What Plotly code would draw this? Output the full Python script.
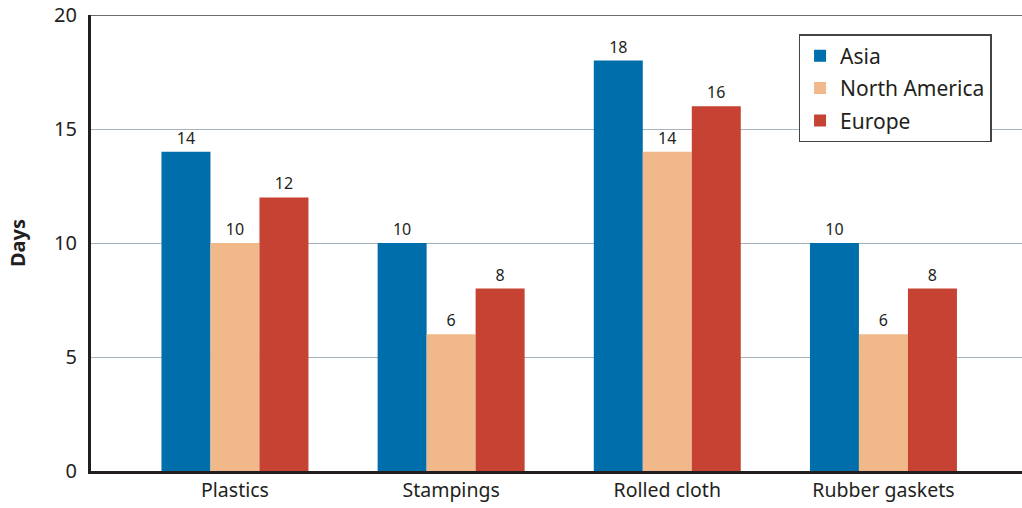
import plotly.graph_objects as go

categories = ["Plastics", "Stampings", "Rolled cloth", "Rubber gaskets"]
asia = [14, 10, 18, 10]
north_america = [10, 6, 14, 6]
europe = [12, 8, 16, 8]
y_ticks = [0, 5, 10, 15, 20]

series = [("Asia", asia, "#006eab"), ("North America", north_america, "#f1b98a"), ("Europe", europe, "#c64232")]
FONT = "Noto Sans"
INK = "#231f20"

fig = go.Figure()
for name, vals, col in series:
    fig.add_trace(go.Bar(
        name=name, x=categories, y=vals, marker=dict(color=col, line=dict(width=0)),
        text=[str(v) for v in vals], textposition="outside", cliponaxis=False,
        textfont=dict(family=FONT, size=16, color=INK), legendgroup=name,
    ))

# top frame line at the 20 gridline
fig.add_shape(type="line", xref="paper", yref="y", x0=0, x1=1, y0=20, y1=20,
              line=dict(color="#3c3c3c", width=1.5), layer="above")

fig.update_layout(
    width=1022, height=508,
    margin=dict(l=91, r=0, t=15, b=37, autoexpand=False),
    paper_bgcolor="white", plot_bgcolor="white",
    barmode="group", bargap=0.32, bargroupgap=0,
    font=dict(family=FONT, color=INK),
    showlegend=True,
    legend=dict(x=0.76, y=0.958, xanchor="left", yanchor="top",
                bordercolor="#444444", borderwidth=1.5, bgcolor="white",
                font=dict(family=FONT, size=21, color=INK),
                itemwidth=30, traceorder="grouped", tracegroupgap=2),
    xaxis=dict(range=[-0.666, 3.641], showline=True, linecolor=INK, linewidth=3, automargin=False,
               ticks="", tickfont=dict(family=FONT, size=19.5, color=INK), showgrid=False),
    yaxis=dict(range=[0, 20], tickvals=y_ticks, showline=True, linecolor=INK, linewidth=3, automargin=False,
               ticks="", ticklabelstandoff=7, ticklabeloverflow="allow",
               tickfont=dict(family=FONT, size=20, color=INK),
               showgrid=True, gridcolor="#a7b3be", gridwidth=1, zeroline=False,
               title=dict(text="<b>Days</b>", font=dict(family=FONT, size=20, color=INK), standoff=24)),
)
fig.write_html("out.html", config={"displayModeBar": False},
               post_script="document.body.style.margin='0';document.body.style.padding='0';")
